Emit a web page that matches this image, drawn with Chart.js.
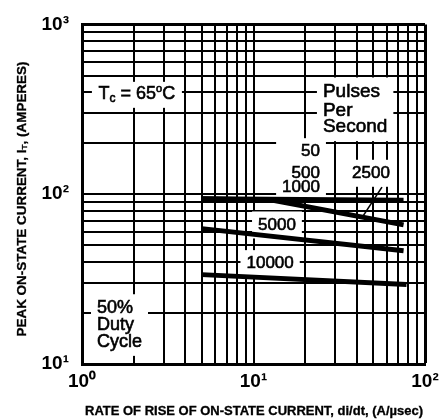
<!DOCTYPE html>
<html>
<head>
<meta charset="utf-8">
<script src="https://cdn.jsdelivr.net/npm/chart.js@4.4.0/dist/chart.umd.min.js"></script>
<style>
  body { margin: 0; background: #fff; }
</style>
</head>
<body>
<canvas id="chart" width="448" height="420"></canvas>
<script>
// curves: di/dt (A/usec) vs peak current (A)
const rate50 = [5, 75];
const amps50 = [94, 92];
const rate2500 = [5, 13, 75];
const amps2500 = [94, 92, 66];
const rate5000 = [5, 75];
const amps5000 = [62.7, 46.4];
const rate10000 = [5, 78];
const amps10000 = [33.6, 29.4];

// grid lines and tick labels
const xGrid = [1, 2, 3, 4, 5, 6, 7, 8, 9, 10, 20, 30, 40, 50, 60, 70, 80, 90, 100];
const yGrid = [10, 20, 30, 40, 50, 60, 70, 80, 90, 100, 200, 300, 400, 500, 600, 700, 800, 900, 1000];
const xTickLabels = { 1: '10⁰', 10: '10¹', 100: '10²' };
const yTickLabels = { 10: '10¹', 100: '10²', 1000: '10³' };

const FONT = '"Liberation Sans", Arial, sans-serif';

function pts(xs, ys) {
  return xs.map((x, i) => ({ x: x, y: ys[i] }));
}

function line(xs, ys) {
  return {
    data: pts(xs, ys),
    borderColor: '#000',
    borderWidth: 5,
    pointRadius: 0,
    fill: false,
    tension: 0
  };
}

// fill + thin stroke so the text looks as heavy as the scanned original
function ink(c, t, x, y) {
  c.fillText(t, x, y);
  c.strokeText(t, x, y);
}

// draw a row of text runs (for sub/superscripts), optionally squeezed
function runs(c, parts, x, y, align, sx) {
  sx = sx || 1;
  let w = 0;
  parts.forEach(p => { c.font = p.font; p.w = c.measureText(p.t).width * sx; w += p.w; });
  let cx = align === 'center' ? x - w / 2 : align === 'right' ? x - w : x;
  parts.forEach(p => {
    c.save();
    c.font = p.font;
    c.translate(cx, y + (p.dy || 0));
    c.scale(sx, 1);
    c.textAlign = 'left';
    c.textBaseline = 'middle';
    ink(c, p.t, 0, 0);
    c.restore();
    cx += p.w;
  });
  return w;
}

function block(c, lines, x, ys, align, size) {
  c.font = size + 'px ' + FONT;
  const w = Math.max(...lines.map(t => c.measureText(t).width));
  const left = align === 'right' ? x - w : align === 'center' ? x - w / 2 : x;
  c.fillStyle = '#fff';
  c.fillRect(left - 6, ys[0] - size * 0.5 - 5, w + 12, ys[ys.length - 1] - ys[0] + size + 10);
  c.fillStyle = '#000';
  c.textAlign = align;
  c.textBaseline = 'middle';
  lines.forEach((t, i) => ink(c, t, x, ys[i]));
}

const notes = {
  id: 'notes',
  beforeDatasetsDraw(chart) {
    const c = chart.ctx;
    const X = v => chart.scales.x.getPixelForValue(v);
    const Y = v => chart.scales.y.getPixelForValue(v);
    c.save();
    c.strokeStyle = '#000';
    c.lineWidth = 0.6;

    // Tc = 65 C
    const tc = [
      { t: 'T', font: '18px ' + FONT },
      { t: 'c', font: '12px ' + FONT, dy: 5 },
      { t: ' = 65', font: '18px ' + FONT },
      { t: 'o', font: '11px ' + FONT, dy: -5 },
      { t: 'C', font: '18px ' + FONT }
    ];
    c.fillStyle = '#fff';
    c.fillRect(X(2.09) - 45, Y(390) - 12, 90, 26);
    c.fillStyle = '#000';
    runs(c, tc, X(2.09), Y(390), 'center');

    block(c, ['Pulses', 'Per', 'Second'], X(25.4), [Y(400), Y(310), Y(250)], 'left', 19);
    block(c, ['50', '500', '1000'], X(24.4), [Y(178), Y(133.6), Y(110)], 'right', 17);
    block(c, ['2500'], X(48.4), [Y(132.8)], 'center', 17);
    block(c, ['5000'], X(13.7), [Y(65.9)], 'center', 17);
    block(c, ['10000'], X(12.5), [Y(39)], 'center', 17);
    block(c, ['50%', 'Duty', 'Cycle'], X(1.223), [Y(21.3), Y(16.9), Y(13.5)], 'left', 18);

    // leader from the 2500 label down to its curve
    c.lineWidth = 1.6;
    c.beginPath();
    c.moveTo(X(56.1), Y(110));
    c.lineTo(X(43.5), Y(74.3));
    c.stroke();

    c.restore();
  },
  afterDraw(chart) {
    const c = chart.ctx;
    c.save();
    c.fillStyle = '#000';
    c.strokeStyle = '#000';
    c.lineWidth = 0.3;
    // x axis title
    c.font = 'bold 12px ' + FONT;
    const xt = 'RATE OF RISE OF ON-STATE CURRENT, di/dt, (A/µsec)';
    const sx = 338 / c.measureText(xt).width;
    runs(c, [{ t: xt, font: 'bold 12px ' + FONT }], 254, 412, 'center', sx);

    // y axis title, rotated
    c.translate(22, 199);
    c.rotate(-Math.PI / 2);
    const yparts = [
      { t: 'PEAK ON-STATE CURRENT, I', font: 'bold 13px ' + FONT },
      { t: 'T', font: 'bold 8px ' + FONT, dy: 3 },
      { t: ', (AMPERES)', font: 'bold 13px ' + FONT }
    ];
    let w = 0;
    yparts.forEach(p => { c.font = p.font; w += c.measureText(p.t).width; });
    runs(c, yparts, 0, 0, 'center', 275 / w);
    c.restore();
  }
};

const ctx = document.getElementById('chart').getContext('2d');

const tickFont = { family: FONT, size: 19, weight: 'bold' };

const myChart = new Chart(ctx, {
  type: 'line',
  data: {
    datasets: [
      line(rate50, amps50),
      line(rate2500, amps2500),
      line(rate5000, amps5000),
      line(rate10000, amps10000)
    ]
  },
  options: {
    responsive: false,
    animation: false,
    layout: { padding: { top: 22, right: 23, left: 0, bottom: 0 } },
    plugins: { legend: { display: false }, tooltip: { enabled: false } },
    scales: {
      x: {
        type: 'logarithmic',
        min: 1,
        max: 100,
        afterBuildTicks: s => { s.ticks = xGrid.map(v => ({ value: v })); },
        afterFit: s => { s.height = 56; },
        grid: {
          color: '#000',
          lineWidth: c => (c.tick && c.tick.value === 100) ? 3 : 2,
          drawTicks: false
        },
        border: { color: '#000', width: 3 },
        ticks: {
          autoSkip: false,
          maxRotation: 0,
          padding: 6,
          color: '#000',
          font: tickFont,
          callback: v => xTickLabels[v] || ''
        }
      },
      y: {
        type: 'logarithmic',
        min: 10,
        max: 1000,
        afterBuildTicks: s => { s.ticks = yGrid.map(v => ({ value: v })); },
        afterFit: s => { s.width = 82; },
        grid: {
          color: '#000',
          lineWidth: c => (c.tick && c.tick.value === 1000) ? 3 : 2,
          drawTicks: false
        },
        border: { color: '#000', width: 3 },
        ticks: {
          autoSkip: false,
          padding: 13,
          color: '#000',
          font: tickFont,
          callback: v => yTickLabels[v] || ''
        }
      }
    }
  },
  plugins: [notes]
});
</script>
</body>
</html>
